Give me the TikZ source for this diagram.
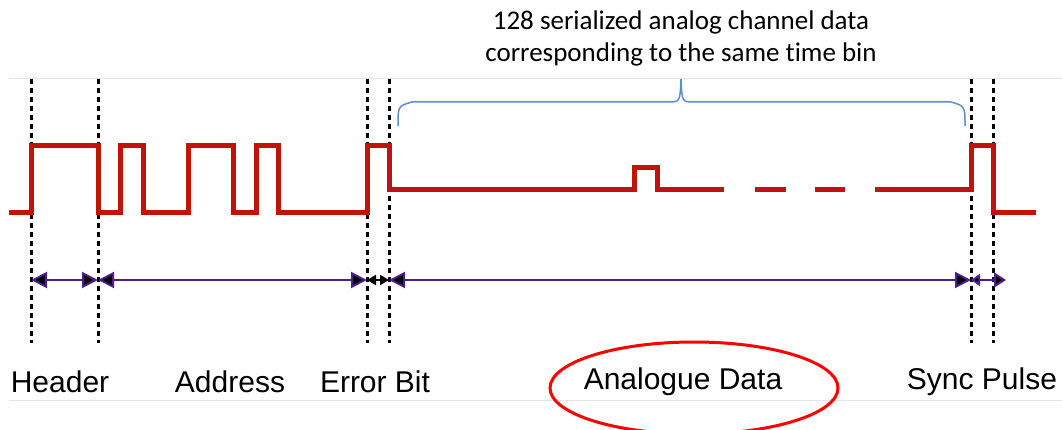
\documentclass[tikz,border=0pt]{standalone}
\usepackage{fontspec}
\setmainfont{Liberation Sans}
\newfontfamily\notefont[Ligatures={NoCommon}]{Carlito}
\usetikzlibrary{arrows.meta}
\definecolor{sigred}{HTML}{C0140A}
\definecolor{span}{HTML}{4B1E8C}
\definecolor{bracecol}{HTML}{5B8FCF}
\tikzset{
  guide/.style={black, line width=3pt, dash pattern=on 5pt off 4pt},
  signal/.style={sigred, line width=5pt},
  spanarrow/.style={span, line width=2pt,
    {Triangle[length=16pt,width=16pt,fill=black]}-{Triangle[length=16pt,width=16pt,fill=black]}},
  label/.style={inner sep=0pt, font=\fontsize{30}{34}\selectfont},
  rule/.style={black!10, line width=1pt}
}
\begin{document}
\begin{tikzpicture}[x=1pt,y=-1pt]
  \useasboundingbox (0,0) rectangle (1062,430);
  % frame lines
  \draw[rule] (9,79) -- (1062,79);
  \draw[rule] (9,400) -- (1062,400);
  % field boundaries
  \coordinate (t1) at (31,79);   \coordinate (b1) at (31,343);
  \coordinate (t2) at (98,79);   \coordinate (b2) at (98,343);
  \coordinate (t3) at (367,79);  \coordinate (b3) at (367,343);
  \coordinate (t4) at (389,79);  \coordinate (b4) at (389,343);
  \coordinate (t5) at (971,79);  \coordinate (b5) at (971,343);
  \coordinate (t6) at (993,79);  \coordinate (b6) at (993,343);
  \draw[guide] (t1) -- (b1);
  \draw[guide] (t2) -- (b2);
  \draw[guide] (t3) -- (b3);
  \draw[guide] (t4) -- (b4);
  \draw[guide] (t5) -- (b5);
  \draw[guide] (t6) -- (b6);
  % serial signal
  \draw[signal] (9,213) -- (31,213) -- (31,146) -- (98,146) -- (98,213)
    -- (120,213) -- (120,146) -- (143,146) -- (143,213)
    -- (188,213) -- (188,146) -- (233,146) -- (233,213)
    -- (256,213) -- (256,146) -- (278,146) -- (278,213)
    -- (367,213) -- (367,146) -- (389,146) -- (389,190)
    -- (634,190) -- (634,168) -- (657,168) -- (657,190) -- (724,190);
  \draw[signal] (755,190) -- (786,190);
  \draw[signal] (815,190) -- (845,190);
  \draw[signal] (875,190) -- (971,190) -- (971,146) -- (993,146) -- (993,213) -- (1036,213);
  % brace over the analogue channels
  \draw[bracecol, line width=1.5pt] (398,126) .. controls (398,106) .. (412,102)
    -- (668,102) .. controls (680,102) .. (681,79)
    .. controls (682,102) .. (694,102) -- (951,102)
    .. controls (965,106) .. (965,126);
  \node[inner sep=0pt, align=center, font=\notefont\fontsize{27}{32}\selectfont]
    (note) at (681,38) {128 serialized analog channel data\\corresponding to the same time bin};
  % field spans
  \coordinate (s1) at (31,280);
  \coordinate (s2) at (98,280);
  \coordinate (s3) at (367,280);
  \coordinate (s4) at (389,280);
  \coordinate (s5) at (971,280);
  \coordinate (s6) at (1006,280);
  \draw[spanarrow] (s1) -- (s2);
  \draw[spanarrow] (s2) -- (s3);
  \draw[black, line width=2pt, {Triangle[length=9pt,width=10pt]}-{Triangle[length=9pt,width=10pt]}] (s3) -- (s4);
  \draw[spanarrow] (s4) -- (s5);
  \draw[span, line width=2pt, {Triangle[length=9pt,width=12pt,fill=black]}-{Triangle[length=12pt,width=15pt,fill=black]}] (s5) -- (s6);
  % field names
  \node[label] (header) at (60,382) {Header};
  \node[label] (address) at (230,382) {Address};
  \node[label] (error) at (375,382) {Error Bit};
  \node[label] (analogue) at (683,382) {Analogue Data};
  \node[label] (sync) at (982,382) {Sync Pulse};
  \draw[red, line width=3pt] (694,388) ellipse (144pt and 46pt);
\end{tikzpicture}
\end{document}
